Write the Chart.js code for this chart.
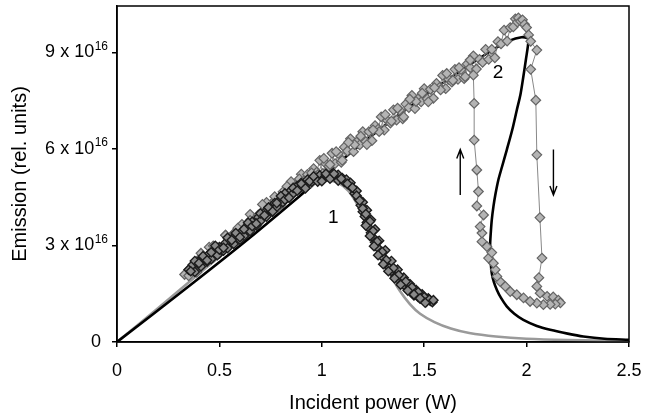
<!DOCTYPE html>
<html>
<head>
<meta charset="utf-8">
<script src="https://cdn.jsdelivr.net/npm/chart.js@4.4.0/dist/chart.umd.min.js"></script>
<style>
  body { margin: 0; background: #fff; }
</style>
</head>
<body>
<canvas id="emissionChart" width="645" height="418"></canvas>
<script>
// emission values are in units of 1e16 (tick labels carry the "x 10^16")

// curve 1 data (dark markers): two passes over the rise, two over the drop
const data1RiseX = [0.35, 0.37, 0.38, 0.40, 0.41, 0.42, 0.44, 0.45, 0.46, 0.48, 0.49, 0.50, 0.52, 0.53, 0.54, 0.56, 0.57, 0.58,
                    0.60, 0.61, 0.62, 0.64, 0.65, 0.66, 0.68, 0.69, 0.70, 0.72, 0.73, 0.74, 0.76, 0.77, 0.78, 0.80, 0.81, 0.82,
                    0.84, 0.85, 0.86, 0.88, 0.89, 0.90, 0.92, 0.93, 0.95, 0.96, 0.98, 0.99, 1.01, 1.02, 1.04, 1.05, 1.07, 1.08];
const data1RiseY = [2.25, 2.40, 2.18, 2.52, 2.35, 2.62, 2.50, 2.74, 2.58, 2.86, 2.70, 2.95, 2.84, 3.08, 2.92, 3.20, 3.05, 3.32,
                    3.18, 3.44, 3.30, 3.60, 3.45, 3.74, 3.62, 3.88, 3.76, 4.02, 3.90, 4.18, 4.05, 4.32, 4.20, 4.45, 4.35, 4.62,
                    4.50, 4.72, 4.62, 4.85, 4.75, 4.95, 4.88, 5.05, 4.98, 5.12, 5.05, 5.18, 5.10, 5.20, 5.12, 5.22, 5.14, 5.20];
const data1Rise2X = [0.36, 0.38, 0.40, 0.42, 0.44, 0.46, 0.48, 0.50, 0.52, 0.54, 0.56, 0.58, 0.60, 0.62, 0.64, 0.66, 0.68, 0.70,
                     0.72, 0.74, 0.76, 0.78, 0.80, 0.82, 0.84, 0.86, 0.88, 0.90, 0.92, 0.94, 0.96, 0.98, 1.00, 1.02, 1.04, 1.06, 1.08];
const data1Rise2Y = [2.20, 2.52, 2.45, 2.67, 2.54, 2.79, 2.99, 2.87, 2.93, 3.24, 3.17, 3.39, 3.26, 3.51, 3.71, 3.60, 3.68, 4.00,
                     3.94, 4.18, 4.06, 4.32, 4.54, 4.43, 4.49, 4.79, 4.71, 4.92, 4.78, 5.00, 5.15, 4.99, 5.00, 5.23, 5.08, 5.23, 5.02];
const data1FallX = [1.10, 1.11, 1.12, 1.13, 1.14, 1.15, 1.16, 1.17, 1.18, 1.19, 1.20, 1.20, 1.21, 1.22, 1.22, 1.23, 1.24,
                    1.24, 1.25, 1.26, 1.26, 1.27, 1.28, 1.29, 1.30, 1.31, 1.32, 1.33, 1.34, 1.35, 1.36, 1.37, 1.38, 1.39,
                    1.40, 1.41, 1.42, 1.43, 1.44, 1.45, 1.46, 1.47, 1.48, 1.49, 1.50, 1.51, 1.52, 1.53, 1.54];
const data1FallY = [5.10, 4.98, 5.05, 4.90, 4.95, 4.78, 4.62, 4.70, 4.45, 4.25, 4.35, 4.05, 3.90, 4.10, 3.72, 3.55, 3.80,
                    3.40, 3.25, 3.50, 3.10, 2.95, 3.15, 2.78, 2.62, 2.85, 2.45, 2.30, 2.52, 2.15, 2.05, 2.25, 1.92, 1.82,
                    2.00, 1.72, 1.62, 1.80, 1.55, 1.45, 1.62, 1.40, 1.35, 1.48, 1.30, 1.25, 1.36, 1.28, 1.24];
const data1Fall2X = [1.095, 1.125, 1.150, 1.170, 1.185, 1.200, 1.215, 1.235, 1.215, 1.250, 1.235, 1.270, 1.255, 1.295, 1.275, 1.315,
                     1.300, 1.350, 1.325, 1.375, 1.355, 1.410, 1.385, 1.440, 1.420, 1.470, 1.450, 1.500, 1.480, 1.525, 1.545, 1.505];
const data1Fall2Y = [5.08, 4.92, 4.80, 4.55, 4.40, 4.15, 3.98, 3.75, 3.62, 3.45, 3.30, 3.12, 2.98, 2.80, 2.70, 2.55,
                     2.42, 2.30, 2.20, 2.08, 1.98, 1.88, 1.78, 1.70, 1.60, 1.55, 1.48, 1.40, 1.36, 1.32, 1.30, 1.22];

// curve 2 data (light markers), one loop: up the upper branch, jump down,
// back along the lower branch, jump up, then down the upper branch again
const data2UpLowX = [0.33, 0.35, 0.37, 0.39, 0.41, 0.43, 0.45, 0.47, 0.49, 0.51, 0.53, 0.55, 0.57, 0.59, 0.61,
                     0.63, 0.65, 0.67, 0.69, 0.71, 0.73, 0.75, 0.77, 0.79, 0.81, 0.83, 0.85, 0.87, 0.89];
const data2UpLowY = [2.10, 2.06, 2.36, 2.17, 2.64, 2.56, 2.95, 2.63, 2.93, 2.92, 3.32, 3.08, 3.38, 3.18, 3.66,
                     3.58, 3.97, 3.65, 3.95, 3.93, 4.34, 4.10, 4.40, 4.20, 4.67, 4.59, 4.99, 4.67, 4.97];
const data2UpHighX = [0.900, 0.915, 0.930, 0.945, 0.960, 0.975, 0.990, 1.005, 1.020, 1.035, 1.050, 1.065, 1.080, 1.095,
                      1.110, 1.125, 1.140, 1.155, 1.170, 1.185, 1.200, 1.215, 1.230, 1.245, 1.260, 1.275, 1.290, 1.305,
                      1.320, 1.335, 1.350, 1.365, 1.380, 1.395, 1.410, 1.425, 1.440, 1.455, 1.470, 1.485, 1.500, 1.515,
                      1.530, 1.545, 1.560, 1.575, 1.590, 1.605, 1.620, 1.635, 1.650, 1.665, 1.680, 1.695, 1.710, 1.725,
                      1.740, 1.755, 1.770, 1.785, 1.800, 1.815, 1.830, 1.845, 1.860, 1.875, 1.890, 1.905, 1.920, 1.935,
                      1.945, 1.955, 1.960, 1.970, 1.980, 1.990, 2.000];
const data2UpHighY = [5.22, 4.90, 5.21, 4.93, 5.39, 5.28, 5.65, 5.24, 5.54, 5.46, 5.87, 5.55, 5.86, 5.59,
                      6.06, 5.94, 6.32, 5.92, 6.22, 6.13, 6.54, 6.23, 6.54, 6.26, 6.73, 6.62, 7.00, 6.59,
                      6.89, 6.81, 7.22, 6.90, 7.21, 6.94, 7.40, 7.29, 7.67, 7.26, 7.56, 7.47, 7.88, 7.56,
                      7.86, 7.58, 8.04, 7.92, 8.29, 7.88, 8.17, 8.08, 8.48, 8.17, 8.47, 8.19, 8.65, 8.53,
                      8.90, 8.49, 8.79, 8.70, 9.10, 8.79, 9.10, 8.84, 9.34, 9.27, 9.70, 9.36, 9.78, 9.80,
                      10.05, 9.95, 10.08, 9.98, 10.02, 9.88, 9.78];
const data2JumpDownX = [2.01, 2.02, 2.05, 2.02, 2.045, 2.05, 2.065, 2.075, 2.06, 2.05];
const data2JumpDownY = [9.55, 9.35, 9.08, 8.48, 7.52, 5.82, 3.87, 2.61, 2.00, 1.73];
const data2LowX = [2.066, 2.10, 2.13, 2.155, 2.165, 2.14, 2.115, 2.082, 2.05, 2.017, 1.985, 1.952, 1.92, 1.896, 1.871,
                   1.855, 1.847, 1.838, 1.814, 1.83, 1.806, 1.782, 1.782, 1.773, 1.79, 1.757, 1.765];
const data2LowY = [1.52, 1.42, 1.40, 1.30, 1.22, 1.18, 1.17, 1.16, 1.21, 1.26, 1.37, 1.47, 1.57, 1.73, 1.88,
                   2.04, 2.25, 2.45, 2.61, 2.78, 2.97, 3.12, 3.39, 3.59, 3.95, 4.23, 4.68];
const data2JumpUpX = [1.757, 1.744, 1.744, 1.74, 1.724];
const data2JumpUpY = [5.35, 6.28, 7.42, 8.30, 8.77];
const data2DownX = [1.70, 1.67, 1.64, 1.61, 1.58, 1.55, 1.52, 1.49, 1.46, 1.43, 1.40, 1.37, 1.34, 1.31, 1.28, 1.25,
                    1.22, 1.19, 1.16, 1.13, 1.10, 1.07, 1.04, 1.01, 0.98, 0.95, 0.92, 0.89, 0.86, 0.83, 0.80, 0.77,
                    0.74, 0.71, 0.68, 0.65, 0.62, 0.59, 0.56, 0.53, 0.50, 0.47, 0.44, 0.41, 0.38, 0.35];
const data2DownY = [8.25, 8.53, 8.14, 8.35, 7.84, 7.91, 7.47, 7.74, 7.48, 7.55, 7.00, 7.27, 6.87, 7.07, 6.54, 6.60,
                    6.14, 6.40, 6.14, 6.21, 5.65, 5.92, 5.52, 5.71, 5.20, 5.26, 4.81, 5.07, 4.80, 4.84, 4.27, 4.52,
                    4.11, 4.28, 3.74, 3.78, 3.31, 3.54, 3.27, 3.32, 2.75, 2.99, 2.58, 2.76, 2.21, 2.25];

// model curves
const model1X = [0, 0.2, 0.4, 0.6, 0.8, 0.9, 0.97, 1.03, 1.08, 1.13, 1.18, 1.23, 1.28, 1.33, 1.38, 1.43, 1.48, 1.55,
                 1.63, 1.72, 1.85, 2.0, 2.2, 2.5];
const model1Y = [0, 1.05, 2.12, 3.18, 4.22, 4.70, 4.95, 5.02, 4.95, 4.70, 4.20, 3.50, 2.80, 2.15, 1.60, 1.18, 0.88, 0.62,
                 0.42, 0.28, 0.17, 0.10, 0.06, 0.03];
const model2RiseX = [0, 0.36, 0.65, 0.95, 1.2, 1.5, 1.8, 1.92, 1.975, 2.003];
const model2RiseY = [0, 1.78, 3.25, 4.85, 6.20, 7.65, 8.95, 9.38, 9.48, 9.45];
const model2FoldX = [2.009, 1.997, 1.984, 1.97, 1.952, 1.93, 1.903, 1.88, 1.862, 1.848, 1.838, 1.83, 1.825, 1.822, 1.822,
                     1.825, 1.83, 1.84, 1.855, 1.875, 1.903, 1.94, 1.984, 2.05, 2.115, 2.2, 2.277, 2.38, 2.5];
const model2FoldY = [9.37, 8.80, 8.25, 7.70, 7.21, 6.60, 5.97, 5.45, 5.04, 4.60, 4.21, 3.80, 3.39, 3.05, 2.76,
                     2.45, 2.14, 1.87, 1.62, 1.37, 1.11, 0.88, 0.69, 0.50, 0.38, 0.26, 0.17, 0.10, 0.07];

// axis ticks
const xTicks = [0, 0.5, 1, 1.5, 2, 2.5];
const yTickValues = [0, 3, 6, 9];
const yTickMain = ['0', '3 x 10', '6 x 10', '9 x 10'];
const yTickExp = ['', '16', '16', '16'];

// curve numbers and sweep arrows (data coordinates)
const curveLabels = [{ text: '1', x: 1.056, y: 3.85 }, { text: '2', x: 1.86, y: 8.38 }];
const sweepArrows = [{ x: 1.676, from: 4.57, to: 5.99 }, { x: 2.131, from: 5.99, to: 4.57 }];

const FONT = '"Liberation Sans", Arial, Helvetica, sans-serif';
Chart.defaults.font.family = FONT;
Chart.defaults.color = '#000';

function toPoints(xs, ys) {
    return xs.map((x, i) => ({ x: x, y: ys[i] }));
}

const data1 = toPoints(
    data1RiseX.concat(data1Rise2X, data1FallX, data1Fall2X),
    data1RiseY.concat(data1Rise2Y, data1FallY, data1Fall2Y)
);
const data2 = toPoints(
    data2UpLowX.concat(data2UpHighX, data2JumpDownX, data2LowX, data2JumpUpX, data2DownX),
    data2UpLowY.concat(data2UpHighY, data2JumpDownY, data2LowY, data2JumpUpY, data2DownY)
);
const model2 = toPoints(model2RiseX.concat(model2FoldX), model2RiseY.concat(model2FoldY));

// frame, y tick labels with superscript, curve numbers and arrows
const decorPlugin = {
    id: 'decor',
    afterDatasetsDraw(chart) {
        const { ctx, chartArea, scales: { x, y } } = chart;
        ctx.save();
        ctx.strokeStyle = '#000';
        ctx.lineWidth = 1.5;
        ctx.strokeRect(chartArea.left, chartArea.top, chartArea.right - chartArea.left, chartArea.bottom - chartArea.top);

        ctx.fillStyle = '#000';
        ctx.font = '19px ' + FONT;
        ctx.textAlign = 'center';
        ctx.textBaseline = 'middle';
        curveLabels.forEach(l => ctx.fillText(l.text, x.getPixelForValue(l.x), y.getPixelForValue(l.y)));

        ctx.lineWidth = 1.4;
        sweepArrows.forEach(a => {
            const px = x.getPixelForValue(a.x);
            const y0 = y.getPixelForValue(a.from);
            const y1 = y.getPixelForValue(a.to);
            const dir = y1 < y0 ? 1 : -1;
            ctx.beginPath();
            ctx.moveTo(px, y0);
            ctx.lineTo(px, y1);
            ctx.moveTo(px - 3.5, y1 + dir * 9);
            ctx.lineTo(px, y1);
            ctx.lineTo(px + 3.5, y1 + dir * 9);
            ctx.stroke();
        });
        ctx.restore();
    },
    afterDraw(chart) {
        const { ctx, scales: { y } } = chart;
        ctx.save();
        ctx.fillStyle = '#000';
        ctx.textBaseline = 'alphabetic';
        ctx.textAlign = 'right';
        yTickValues.forEach((v, i) => {
            const py = y.getPixelForValue(v) + 4.5;
            if (!yTickExp[i]) {
                ctx.font = '18px ' + FONT;
                ctx.fillText(yTickMain[i], 101, py);
                return;
            }
            ctx.font = '12px ' + FONT;
            const expW = ctx.measureText(yTickExp[i]).width;
            ctx.fillText(yTickExp[i], 108, py - 7.5);
            ctx.font = '18px ' + FONT;
            ctx.fillText(yTickMain[i], 108 - expW - 0.5, py);
        });
        ctx.restore();
    }
};

const ctx = document.getElementById('emissionChart').getContext('2d');
new Chart(ctx, {
    type: 'scatter',
    data: {
        datasets: [
            {
                label: 'Data 1',
                data: data1,
                order: 0,
                showLine: false,
                pointStyle: 'rectRot',
                pointRadius: 4.6,
                backgroundColor: '#8a8a8a',
                borderColor: '#1c1c1c',
                borderWidth: 1.4
            },
            {
                label: 'Data 2',
                data: data2,
                order: 1,
                showLine: true,
                borderColor: '#888888',
                borderWidth: 1,
                pointStyle: 'rectRot',
                pointRadius: 4.8,
                pointBackgroundColor: '#b4b4b4',
                pointBorderColor: '#646464',
                pointBorderWidth: 1.2
            },
            {
                label: 'Model 2',
                data: model2,
                order: 2,
                showLine: true,
                borderColor: '#000',
                borderWidth: 2.6,
                pointRadius: 0,
                tension: 0.3
            },
            {
                label: 'Model 1',
                data: toPoints(model1X, model1Y),
                order: 3,
                showLine: true,
                borderColor: '#9a9a9a',
                borderWidth: 2.6,
                pointRadius: 0,
                tension: 0.3
            }
        ]
    },
    options: {
        responsive: false,
        animation: false,
        layout: { padding: { top: 5, right: 16, left: 0, bottom: 0 } },
        plugins: { legend: { display: false }, tooltip: { enabled: false } },
        scales: {
            x: {
                type: 'linear',
                min: 0,
                max: 2.5,
                afterBuildTicks: scale => { scale.ticks = xTicks.map(v => ({ value: v })); },
                ticks: { color: '#000', font: { size: 18 }, padding: 13, maxRotation: 0, callback: v => String(v) },
                grid: { display: true, drawOnChartArea: false, drawTicks: true, tickLength: 5, color: '#000', lineWidth: 1.5 },
                border: { display: true, color: '#000', width: 1.5 },
                title: { display: true, text: 'Incident power (W)', color: '#000', font: { size: 20 }, padding: { top: 3, bottom: 3 } },
                afterFit: scale => { scale.height = 76; scale.paddingLeft = 0; scale.paddingRight = 0; }
            },
            y: {
                type: 'linear',
                min: 0,
                max: 10.45,
                afterBuildTicks: scale => { scale.ticks = yTickValues.map(v => ({ value: v })); },
                ticks: { callback: () => '' },
                grid: { display: true, drawOnChartArea: false, drawTicks: true, tickLength: 5, color: '#000', lineWidth: 1.5 },
                border: { display: true, color: '#000', width: 1.5 },
                title: { display: true, text: 'Emission (rel. units)', color: '#000', font: { size: 20 }, padding: { top: 8, bottom: 8 } },
                afterFit: scale => { scale.width = 117; scale.paddingTop = 0; scale.paddingBottom = 0; }
            }
        }
    },
    plugins: [decorPlugin]
});
</script>
</body>
</html>
